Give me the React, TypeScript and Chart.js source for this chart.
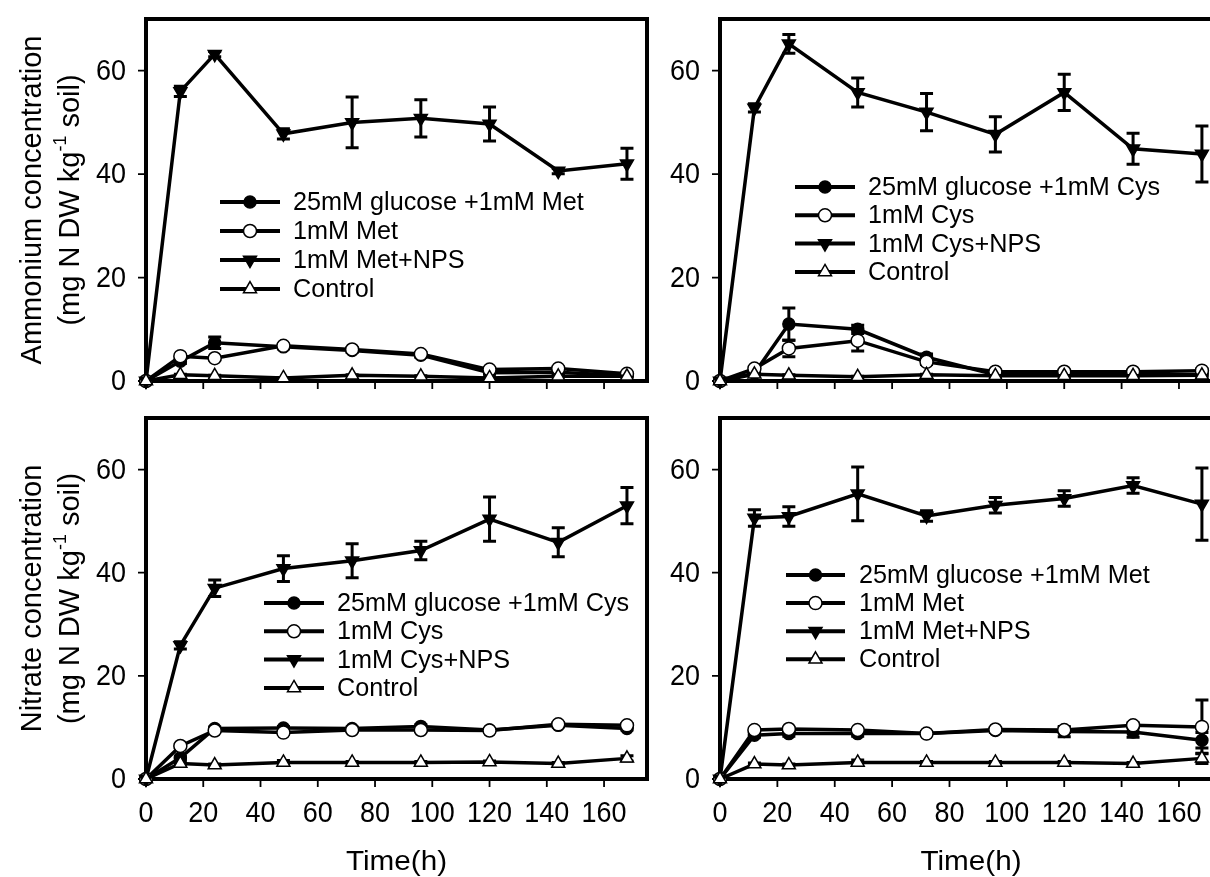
import React, { useEffect, useRef } from "react";
import { Chart, registerables } from "chart.js";

Chart.register(...registerables);

// Sampling times (h) and axis tick values
const hours = [0, 12, 24, 48, 72, 96, 120, 144, 168];
const xTickValues = [0, 20, 40, 60, 80, 100, 120, 140, 160];
const yTickValues = [0, 20, 40, 60];

// Ammonium, methionine treatments (mg N kg-1 soil) with SE
const ammMetGlucose = [0, 3.8, 7.4, 6.6, 5.9, 5.0, 1.6, 1.7, 1.0];
const ammMetGlucoseErr = [0, 0.4, 1.1, 0.4, 0.4, 0.4, 0.3, 0.3, 0.2];
const ammMet = [0, 4.8, 4.4, 6.8, 6.1, 5.2, 2.2, 2.4, 1.4];
const ammMetErr = [0, 0.3, 0.3, 0.3, 0.3, 0.3, 0.3, 0.3, 0.2];
const ammMetNps = [0, 56.0, 63.2, 47.8, 50.0, 50.8, 49.7, 40.6, 42.0];
const ammMetNpsErr = [0, 1.0, 0.5, 1.0, 4.9, 3.6, 3.3, 0.5, 3.0];
const ammMetControl = [0, 1.2, 1.0, 0.6, 1.1, 0.9, 0.6, 0.9, 0.9];
const ammMetControlErr = [0, 0.1, 0.1, 0.1, 0.1, 0.1, 0.1, 0.1, 0.1];

// Ammonium, cysteine treatments
const ammCysGlucose = [0, 1.5, 11.0, 10.0, 4.6, 1.2, 1.2, 1.2, 1.2];
const ammCysGlucoseErr = [0, 0.3, 3.1, 0.8, 0.6, 0.3, 0.3, 0.3, 0.3];
const ammCys = [0, 2.4, 6.3, 7.8, 3.7, 1.8, 1.8, 1.8, 2.0];
const ammCysErr = [0, 0.3, 1.6, 2.0, 0.5, 0.3, 0.3, 0.3, 0.3];
const ammCysNps = [0, 52.8, 65.2, 55.8, 52.0, 47.7, 55.8, 44.9, 43.9];
const ammCysNpsErr = [0, 0.8, 1.8, 2.8, 3.6, 3.4, 3.5, 3.0, 5.4];
const ammCysControl = [0, 1.3, 1.1, 0.8, 1.2, 1.0, 1.0, 1.0, 1.1];
const ammCysControlErr = [0, 0.1, 0.1, 0.1, 0.1, 0.1, 0.1, 0.1, 0.1];

// Nitrate, cysteine treatments
const nitCysGlucose = [0, 4.1, 9.8, 9.9, 9.8, 10.2, 9.5, 10.4, 9.8];
const nitCysGlucoseErr = [0, 0.3, 0.3, 0.3, 0.3, 0.3, 0.3, 0.3, 0.3];
const nitCys = [0, 6.4, 9.4, 9.0, 9.5, 9.5, 9.4, 10.6, 10.4];
const nitCysErr = [0, 0.3, 0.3, 0.3, 0.3, 0.3, 0.3, 0.3, 0.3];
const nitCysNps = [0, 25.9, 37.0, 40.8, 42.3, 44.3, 50.4, 45.9, 53.0];
const nitCysNpsErr = [0, 0.7, 1.6, 2.5, 3.3, 1.8, 4.3, 2.8, 3.5];
const nitCysControl = [0, 3.0, 2.7, 3.2, 3.2, 3.2, 3.3, 3.0, 4.0];
const nitCysControlErr = [0, 0.2, 0.2, 0.4, 0.2, 0.2, 0.2, 0.2, 0.5];

// Nitrate, methionine treatments
const nitMetGlucose = [0, 8.5, 8.8, 8.8, 8.8, 9.4, 9.2, 9.1, 7.5];
const nitMetGlucoseErr = [0, 0.4, 0.5, 0.5, 0.4, 0.4, 1.0, 1.0, 1.5];
const nitMet = [0, 9.5, 9.7, 9.5, 8.8, 9.6, 9.5, 10.4, 10.1];
const nitMetErr = [0, 0.3, 0.3, 0.3, 0.3, 0.3, 0.5, 0.5, 5.2];
const nitMetNps = [0, 50.6, 50.9, 55.3, 51.0, 53.1, 54.4, 56.9, 53.3];
const nitMetNpsErr = [0, 1.6, 1.9, 5.2, 1.0, 1.5, 1.5, 1.5, 7.0];
const nitMetControl = [0, 2.9, 2.7, 3.2, 3.2, 3.2, 3.2, 3.0, 4.0];
const nitMetControlErr = [0, 0.2, 0.2, 0.5, 0.2, 0.2, 0.2, 0.2, 1.0];

// Legend labels
const metLabels = ["25mM glucose +1mM Met", "1mM Met", "1mM Met+NPS", "Control"];
const cysLabels = ["25mM glucose +1mM Cys", "1mM Cys", "1mM Cys+NPS", "Control"];

const FONT = '"Liberation Sans", Arial, Helvetica, sans-serif';
const CANVAS_W = 1240;
const CANVAS_H = 877;
const X_MAX = 175;
const Y_MAX = 70;

type Marker = { shape: "circle" | "triangle"; fill: string; rotation: number; radius: number; order: number };

// glucose, amino acid alone, amino acid + NPS, control
const MARKERS: Marker[] = [
  { shape: "circle", fill: "#000", rotation: 0, radius: 6, order: 3 },
  { shape: "circle", fill: "#fff", rotation: 0, radius: 6.5, order: 2 },
  { shape: "triangle", fill: "#000", rotation: 180, radius: 7.5, order: 1 },
  { shape: "triangle", fill: "#fff", rotation: 0, radius: 7.5, order: 0 },
];

type Area = { left: number; top: number; right: number; bottom: number };
type LegendPos = { x0: number; x1: number; textX: number; y0: number; dy: number };

type PanelProps = {
  area: Area;
  series: number[][];
  errors: number[][];
  labels: string[];
  legend: LegendPos;
  yTitle?: string;
  showXLabels: boolean;
};

function drawText(
  ctx: CanvasRenderingContext2D,
  text: string,
  x: number,
  y: number,
  size: number,
  align: CanvasTextAlign,
  sx: number,
  rotate = false
) {
  ctx.save();
  ctx.translate(x, y);
  ctx.scale(sx, 1);
  if (rotate) ctx.rotate(-Math.PI / 2);
  ctx.font = `${size}px ${FONT}`;
  ctx.textAlign = align;
  ctx.textBaseline = "middle";
  ctx.fillStyle = "#000";
  ctx.fillText(text, 0, 0);
  ctx.restore();
}

function drawMarker(ctx: CanvasRenderingContext2D, m: Marker, x: number, y: number) {
  ctx.save();
  ctx.fillStyle = m.fill;
  ctx.strokeStyle = "#000";
  ctx.lineWidth = 1.5;
  ctx.beginPath();
  if (m.shape === "circle") {
    ctx.arc(x, y, m.radius, 0, Math.PI * 2);
  } else {
    let rad = (m.rotation * Math.PI) / 180;
    for (let k = 0; k < 3; k++) {
      const px = x + Math.sin(rad) * m.radius;
      const py = y - Math.cos(rad) * m.radius;
      if (k === 0) ctx.moveTo(px, py);
      else ctx.lineTo(px, py);
      rad += (2 * Math.PI) / 3;
    }
    ctx.closePath();
  }
  ctx.fill();
  ctx.stroke();
  ctx.restore();
}

function makeDecor(props: PanelProps) {
  return {
    id: "panelDecor",
    beforeDatasetsDraw(chart: any) {
      const ctx: CanvasRenderingContext2D = chart.ctx;
      const { left, top, right, bottom } = chart.chartArea;
      const xs = chart.scales.x;
      const ys = chart.scales.y;
      ctx.save();
      ctx.strokeStyle = "#000";
      ctx.lineWidth = 4;
      ctx.strokeRect(left, top, right - left, bottom - top);
      ctx.lineWidth = 1.8;
      ctx.beginPath();
      xTickValues.forEach((v) => {
        const px = xs.getPixelForValue(v);
        ctx.moveTo(px, bottom);
        ctx.lineTo(px, bottom + 8);
      });
      yTickValues.forEach((v) => {
        const py = ys.getPixelForValue(v);
        ctx.moveTo(left, py);
        ctx.lineTo(left - 8, py);
      });
      ctx.stroke();

      // error bars
      const cap = 6.5;
      ctx.lineWidth = 3;
      chart.data.datasets.forEach((ds: any) => {
        const errs: number[] = ds.errors || [];
        ds.data.forEach((p: { x: number; y: number }, j: number) => {
          const e = errs[j];
          if (!e) return;
          const px = xs.getPixelForValue(p.x);
          const y1 = ys.getPixelForValue(p.y + e);
          const y2 = ys.getPixelForValue(Math.max(0, p.y - e));
          ctx.beginPath();
          ctx.moveTo(px, y1);
          ctx.lineTo(px, y2);
          ctx.moveTo(px - cap, y1);
          ctx.lineTo(px + cap, y1);
          ctx.moveTo(px - cap, y2);
          ctx.lineTo(px + cap, y2);
          ctx.stroke();
        });
      });
      ctx.restore();
    },
    afterDraw(chart: any) {
      const ctx: CanvasRenderingContext2D = chart.ctx;
      const { left, top, bottom } = chart.chartArea;
      const xs = chart.scales.x;
      const ys = chart.scales.y;

      yTickValues.forEach((v) => {
        drawText(ctx, String(v), left - 20, ys.getPixelForValue(v) + 1, 29, "right", 0.93);
      });
      if (props.showXLabels) {
        xTickValues.forEach((v) => {
          drawText(ctx, String(v), xs.getPixelForValue(v), bottom + 35, 29, "center", 0.93);
        });
        drawText(ctx, "Time(h)", (left + chart.chartArea.right) / 2, bottom + 83, 28, "center", 1.06);
      }

      if (props.yTitle) {
        const cy = (top + bottom) / 2;
        const size = 29;
        const sx = 1.0;
        drawText(ctx, props.yTitle, 33, cy, size, "center", sx, true);
        // second line with superscript exponent
        ctx.save();
        ctx.font = `${size}px ${FONT}`;
        const a = "(mg N DW kg";
        const c = " soil)";
        const wa = ctx.measureText(a).width;
        const wc = ctx.measureText(c).width;
        ctx.font = `${size * 0.62}px ${FONT}`;
        const sup = "-1";
        const wb = ctx.measureText(sup).width;
        ctx.restore();
        const total = wa + wb + wc;
        ctx.save();
        ctx.translate(71, cy);
        ctx.scale(sx, 1);
        ctx.rotate(-Math.PI / 2);
        ctx.fillStyle = "#000";
        ctx.textAlign = "left";
        ctx.textBaseline = "middle";
        ctx.font = `${size}px ${FONT}`;
        ctx.fillText(a, -total / 2, 0);
        ctx.font = `${size * 0.62}px ${FONT}`;
        ctx.fillText(sup, -total / 2 + wa, -size * 0.36);
        ctx.font = `${size}px ${FONT}`;
        ctx.fillText(c, -total / 2 + wa + wb, 0);
        ctx.restore();
      }

      // legend
      const lg = props.legend;
      props.labels.forEach((label, i) => {
        const y = lg.y0 + i * lg.dy;
        ctx.save();
        ctx.strokeStyle = "#000";
        ctx.lineWidth = 4;
        ctx.beginPath();
        ctx.moveTo(lg.x0, y);
        ctx.lineTo(lg.x1, y);
        ctx.stroke();
        ctx.restore();
        drawMarker(ctx, MARKERS[i], (lg.x0 + lg.x1) / 2, y);
        drawText(ctx, label, lg.textX, y + 1, 26, "left", 0.97);
      });
    },
  };
}

function Panel(props: PanelProps) {
  const ref = useRef<HTMLCanvasElement | null>(null);
  useEffect(() => {
    if (!ref.current) return;
    const { area } = props;
    const datasets = props.series.map((vals, i) => {
      const m = MARKERS[i];
      return {
        label: props.labels[i],
        data: hours.map((h, j) => ({ x: h, y: vals[j] })),
        errors: props.errors[i],
        borderColor: "#000",
        borderWidth: 3.5,
        pointStyle: m.shape,
        pointRadius: m.radius,
        pointRotation: m.rotation,
        pointBackgroundColor: m.fill,
        pointBorderColor: "#000",
        pointBorderWidth: 1.5,
        tension: 0,
        fill: false,
        clip: false,
        order: m.order,
      };
    });
    const chart = new Chart(ref.current, {
      type: "line",
      data: { datasets: datasets as any },
      options: {
        animation: false,
        responsive: false,
        devicePixelRatio: 1,
        layout: {
          padding: {
            left: area.left,
            top: area.top,
            right: CANVAS_W - area.right,
            bottom: CANVAS_H - area.bottom,
          },
        },
        scales: {
          x: { type: "linear", min: 0, max: X_MAX, display: false },
          y: { type: "linear", min: 0, max: Y_MAX, display: false },
        },
        plugins: {
          legend: { display: false },
          tooltip: { enabled: false },
          title: { display: false },
        },
        events: [],
      },
      plugins: [makeDecor(props)],
    });
    return () => chart.destroy();
  }, []);
  return (
    <canvas
      ref={ref}
      width={CANVAS_W}
      height={CANVAS_H}
      style={{ position: "absolute", left: 0, top: 0, width: CANVAS_W, height: CANVAS_H }}
    />
  );
}

export default function App() {
  return (
    <div
      style={{
        position: "absolute",
        left: 0,
        top: 0,
        width: 1210,
        height: 877,
        overflow: "hidden",
        background: "#fff",
      }}
    >
      <Panel
        area={{ left: 146, top: 19, right: 647, bottom: 381 }}
        series={[ammMetGlucose, ammMet, ammMetNps, ammMetControl]}
        errors={[ammMetGlucoseErr, ammMetErr, ammMetNpsErr, ammMetControlErr]}
        labels={metLabels}
        legend={{ x0: 220, x1: 280, textX: 293, y0: 202, dy: 29 }}
        yTitle="Ammonium concentration"
        showXLabels={false}
      />
      <Panel
        area={{ left: 720, top: 19, right: 1222, bottom: 381 }}
        series={[ammCysGlucose, ammCys, ammCysNps, ammCysControl]}
        errors={[ammCysGlucoseErr, ammCysErr, ammCysNpsErr, ammCysControlErr]}
        labels={cysLabels}
        legend={{ x0: 795, x1: 855, textX: 868, y0: 187, dy: 28.3 }}
        showXLabels={false}
      />
      <Panel
        area={{ left: 146, top: 418, right: 647, bottom: 779 }}
        series={[nitCysGlucose, nitCys, nitCysNps, nitCysControl]}
        errors={[nitCysGlucoseErr, nitCysErr, nitCysNpsErr, nitCysControlErr]}
        labels={cysLabels}
        legend={{ x0: 264, x1: 324, textX: 337, y0: 603, dy: 28.3 }}
        yTitle="Nitrate concentration"
        showXLabels={true}
      />
      <Panel
        area={{ left: 720, top: 418, right: 1222, bottom: 779 }}
        series={[nitMetGlucose, nitMet, nitMetNps, nitMetControl]}
        errors={[nitMetGlucoseErr, nitMetErr, nitMetNpsErr, nitMetControlErr]}
        labels={metLabels}
        legend={{ x0: 786, x1: 845, textX: 859, y0: 575, dy: 28.1 }}
        showXLabels={true}
      />
    </div>
  );
}
